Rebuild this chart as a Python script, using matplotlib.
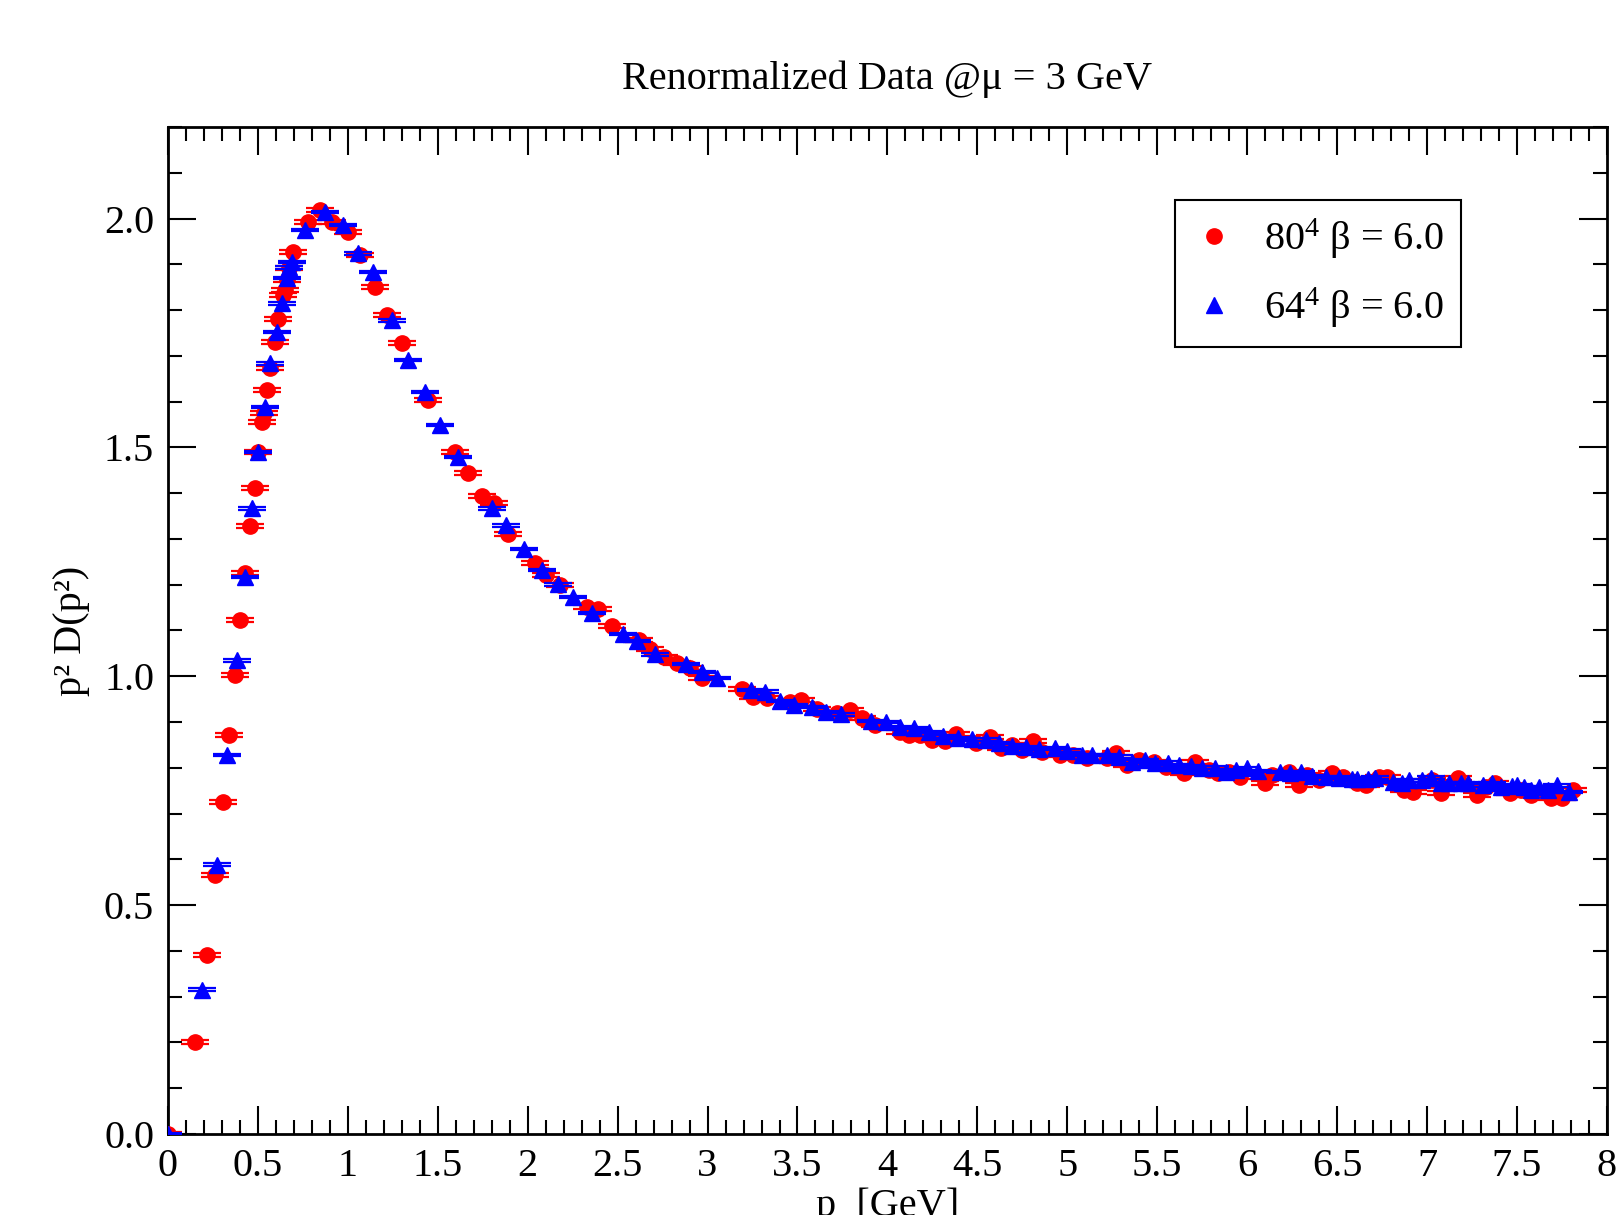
import matplotlib
matplotlib.use("Agg")
import matplotlib.pyplot as plt
from matplotlib.ticker import MultipleLocator, FormatStrFormatter, FuncFormatter
from matplotlib.lines import Line2D

# ---------------- data ----------------
p80 = [0.0, 0.150, 0.217, 0.261, 0.306, 0.339, 0.372, 0.400, 0.428, 0.456,
       0.483, 0.500, 0.525, 0.533, 0.550, 0.567, 0.594, 0.610, 0.640, 0.650,
       0.660, 0.672, 0.694, 0.778, 0.844, 0.911, 1.000, 1.067, 1.150, 1.217,
       1.300, 1.444, 1.594, 1.667, 1.744, 1.810, 1.890, 2.040, 2.100, 2.180,
       2.330, 2.390, 2.470, 2.620, 2.680, 2.760, 2.830, 2.900, 2.970, 3.190,
       3.250, 3.330, 3.460, 3.520, 3.610, 3.720, 3.790, 3.860, 3.930, 4.070,
       4.120, 4.180, 4.250, 4.320, 4.380, 4.490, 4.570, 4.630, 4.690, 4.750,
       4.810, 4.860, 4.960, 5.030, 5.110, 5.220, 5.270, 5.330, 5.400, 5.480,
       5.550, 5.650, 5.710, 5.790, 5.840, 5.900, 5.960, 6.100, 6.140, 6.230,
       6.290, 6.330, 6.400, 6.470, 6.530, 6.610, 6.660, 6.730, 6.780, 6.870,
       6.920, 7.030, 7.080, 7.170, 7.280, 7.330, 7.380, 7.460, 7.520, 7.580,
       7.690, 7.750, 7.810]
d80 = [0.000, 0.201, 0.391, 0.566, 0.725, 0.872, 1.003, 1.123, 1.225, 1.328,
       1.411, 1.490, 1.555, 1.575, 1.625, 1.673, 1.730, 1.780, 1.833, 1.844,
       1.865, 1.892, 1.927, 1.992, 2.018, 1.992, 1.970, 1.920, 1.850, 1.789,
       1.728, 1.603, 1.490, 1.444, 1.394, 1.378, 1.311, 1.247, 1.221, 1.199,
       1.151, 1.147, 1.110, 1.079, 1.059, 1.042, 1.029, 1.018, 0.996, 0.972,
       0.955, 0.952, 0.944, 0.948, 0.928, 0.919, 0.926, 0.909, 0.893, 0.878,
       0.872, 0.872, 0.861, 0.858, 0.874, 0.854, 0.867, 0.843, 0.850, 0.839,
       0.858, 0.834, 0.828, 0.828, 0.821, 0.821, 0.832, 0.806, 0.817, 0.813,
       0.802, 0.789, 0.813, 0.795, 0.789, 0.791, 0.780, 0.767, 0.784, 0.791,
       0.762, 0.784, 0.773, 0.789, 0.780, 0.767, 0.762, 0.780, 0.780, 0.751,
       0.747, 0.773, 0.745, 0.778, 0.740, 0.758, 0.767, 0.745, 0.751, 0.740,
       0.734, 0.734, 0.751]
e80 = 0.004

p64 = [0.0, 0.189, 0.272, 0.328, 0.383, 0.428, 0.467, 0.500, 0.539, 0.567,
       0.606, 0.633, 0.661, 0.675, 0.689, 0.761, 0.872, 0.972, 1.056, 1.140,
       1.244, 1.333, 1.428, 1.511, 1.611, 1.800, 1.880, 1.980, 2.080, 2.170,
       2.250, 2.360, 2.530, 2.610, 2.710, 2.880, 2.970, 3.050, 3.240, 3.320,
       3.400, 3.480, 3.580, 3.660, 3.740, 3.910, 3.990, 4.070, 4.150, 4.230,
       4.310, 4.390, 4.470, 4.550, 4.620, 4.690, 4.770, 4.840, 4.930, 5.000,
       5.080, 5.140, 5.220, 5.290, 5.360, 5.430, 5.490, 5.560, 5.620, 5.690,
       5.750, 5.820, 5.880, 5.940, 6.000, 6.060, 6.180, 6.240, 6.300, 6.360,
       6.440, 6.510, 6.580, 6.610, 6.670, 6.710, 6.810, 6.860, 6.900, 6.970,
       7.020, 7.080, 7.120, 7.190, 7.230, 7.310, 7.360, 7.410, 7.470, 7.500,
       7.540, 7.580, 7.620, 7.670, 7.720, 7.790]
d64 = [0.000, 0.315, 0.588, 0.828, 1.035, 1.217, 1.367, 1.490, 1.588, 1.684,
       1.752, 1.815, 1.870, 1.893, 1.905, 1.975, 2.014, 1.986, 1.924, 1.883,
       1.778, 1.691, 1.621, 1.549, 1.479, 1.367, 1.330, 1.278, 1.232, 1.201,
       1.173, 1.138, 1.092, 1.077, 1.048, 1.027, 1.009, 0.996, 0.970, 0.966,
       0.946, 0.937, 0.933, 0.922, 0.917, 0.902, 0.900, 0.889, 0.887, 0.878,
       0.869, 0.865, 0.862, 0.861, 0.854, 0.848, 0.845, 0.841, 0.843, 0.837,
       0.828, 0.828, 0.828, 0.824, 0.813, 0.817, 0.810, 0.811, 0.806, 0.804,
       0.800, 0.800, 0.791, 0.795, 0.799, 0.793, 0.791, 0.789, 0.791, 0.782,
       0.780, 0.778, 0.775, 0.775, 0.775, 0.778, 0.769, 0.767, 0.773, 0.773,
       0.778, 0.767, 0.767, 0.767, 0.767, 0.762, 0.767, 0.758, 0.760, 0.762,
       0.758, 0.751, 0.758, 0.751, 0.762, 0.747]
e64 = 0.003

title = "Renormalized Data @\u03bc = 3 GeV"
xlabel = "p  [GeV]"
ylabel = "p\u00b2 D(p\u00b2)"
label80 = r"80$^{4}$ " + "\u03b2 = 6.0"
label64 = r"64$^{4}$ " + "\u03b2 = 6.0"

# ---------------- style ----------------
plt.rcParams['font.family'] = ['Liberation Serif', 'DejaVu Serif']
plt.rcParams['mathtext.fontset'] = 'custom'
plt.rcParams['mathtext.rm'] = 'Liberation Serif'
plt.rcParams['mathtext.it'] = 'Liberation Serif:italic'
plt.rcParams['mathtext.bf'] = 'Liberation Serif:bold'

FS = 29
RED = '#ff0000'
BLUE = '#0000ff'
fig = plt.figure(figsize=(16.24, 12.15), dpi=100)
ax = fig.add_axes([0.1034, 0.0667, 0.8861, 0.8288])

ax.errorbar(p80, d80, yerr=e80, fmt='o', color=RED, ms=11,
            markeredgecolor=RED, markerfacecolor=RED,
            ecolor=RED, elinewidth=1.5, capsize=10, capthick=1.6, zorder=3)
ax.errorbar(p64, d64, yerr=e64, fmt='^', color=BLUE, ms=11,
            markeredgecolor=BLUE, markerfacecolor=BLUE,
            ecolor=BLUE, elinewidth=1.5, capsize=10, capthick=1.6, zorder=4)

ax.set_xlim(0, 8)
ax.set_ylim(0, 2.2)

ax.xaxis.set_major_locator(MultipleLocator(0.5))
ax.xaxis.set_minor_locator(MultipleLocator(0.1))
ax.yaxis.set_major_locator(MultipleLocator(0.5))
ax.yaxis.set_minor_locator(MultipleLocator(0.1))
ax.xaxis.set_major_formatter(FuncFormatter(lambda v, pos: '%g' % v))
ax.yaxis.set_major_formatter(FormatStrFormatter('%.1f'))

ax.tick_params(which='both', direction='in', top=True, right=True,
               labelsize=FS, width=1.5, color='black')
ax.tick_params(which='major', length=20, pad=10)
ax.tick_params(which='minor', length=10)
for s in ax.spines.values():
    s.set_linewidth(2.0)

ax.set_title(title, fontsize=FS, pad=27)
ax.set_xlabel(xlabel, fontsize=FS, labelpad=2)
ax.set_ylabel(ylabel, fontsize=FS, labelpad=10)

handles = [Line2D([], [], ls='none', marker='o', color=RED, ms=11),
           Line2D([], [], ls='none', marker='^', color=BLUE, ms=11)]
leg = ax.legend(handles, [label80, label64], loc='upper right',
                bbox_to_anchor=(0.8985, 0.9275), borderaxespad=0,
                fontsize=FS, frameon=True, fancybox=False, shadow=False,
                handlelength=1.07, handletextpad=0.72, labelspacing=0.6,
                borderpad=0.42)
leg.get_frame().set_edgecolor('black')
leg.get_frame().set_linewidth(1.5)
leg.get_frame().set_alpha(1)

fig.savefig('out.png', dpi=100)
